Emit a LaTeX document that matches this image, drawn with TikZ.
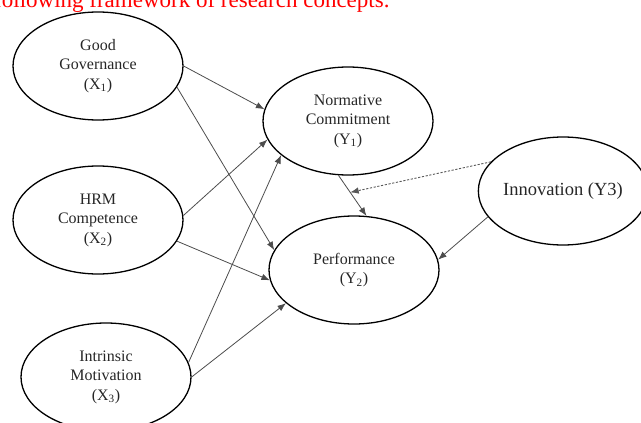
\documentclass[tikz,border=0pt]{standalone}
\usepackage{fontspec}
\setmainfont{Liberation Serif}
\usetikzlibrary{arrows.meta,shapes.geometric}
\tikzset{
  ell/.style={draw, ellipse, line width=1.3pt, minimum width=170pt, minimum height=108pt, inner sep=0pt, align=center, font=\fontsize{16}{19.5}\selectfont, text=black!85},
  arr/.style={-{Latex[length=8.5pt, width=6.5pt]}, line width=0.8pt, black!70},
  darr/.style={-{Latex[length=8.5pt, width=6.5pt]}, line width=0.9pt, black!65, dash pattern=on 2.2pt off 1.6pt},
}
\begin{document}
\begin{tikzpicture}[x=1pt, y=-1pt]
\useasboundingbox (0,0) rectangle (641,423);
\clip (0,0) rectangle (641,423);

% Heading cut by the page edge
\node[anchor=base west, inner sep=0pt, text=red, font=\fontsize{23}{27}\selectfont] (head) at (-6,7.5)
  {following framework of research concepts.};

% Constructs
\node[ell] (gg) at (98,66) {Good\\Governance\\(X\textsubscript{1})};
\node[ell] (hrm) at (98,220) {HRM\\Competence\\(X\textsubscript{2})};
\node[ell] (im) at (106,377) {Intrinsic\\Motivation\\(X\textsubscript{3})};
\node[ell] (nc) at (348,121) {Normative\\Commitment\\(Y\textsubscript{1})};
\node[ell] (perf) at (354,270) {Performance\\(Y\textsubscript{2})};
\node[ell, minimum width=157pt, font=\fontsize{18.5}{22}\selectfont] (inno) at (563,191) {Innovation (Y3)};

% Paths
\draw[arr] (gg.east) -- (nc.172);
\draw[arr] (gg.-15) -- (perf.166);
\draw[arr] (hrm.3) -- (nc.193);
\draw[arr] (hrm.-15) -- (perf.187);
\draw[arr] (im.10) -- (nc.207);
\draw[arr] (im.east) -- (perf.206);
\draw[arr] (nc.260) -- coordinate[pos=0.42] (mod) (perf.77);
\draw[darr] (inno.158) -- (mod);
\draw[arr] (inno.199) -- (perf.7);

\end{tikzpicture}
\end{document}
